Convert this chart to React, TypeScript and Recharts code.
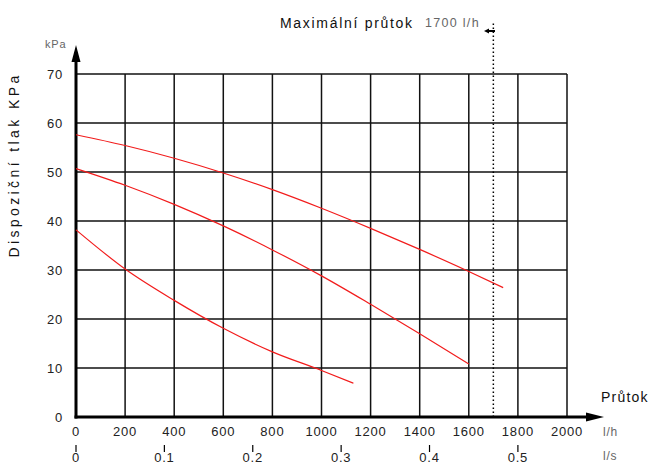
import React from "react";
import {
  LineChart,
  Line,
  XAxis,
  YAxis,
  CartesianGrid,
  ReferenceLine,
  Customized,
} from "recharts";

// Flow (l/h) and available pressure (kPa)
const flowHigh = [0, 200, 400, 600, 800, 1000, 1200, 1400, 1600, 1740];
const pressureHigh = [57.6, 55.4, 52.8, 49.8, 46.4, 42.6, 38.5, 34.2, 29.7, 26.4];

const flowMid = [0, 200, 400, 600, 800, 1000, 1200, 1400, 1600];
const pressureMid = [50.7, 47.3, 43.4, 39.0, 34.1, 28.8, 23.0, 17.0, 10.8];

const flowLow = [0, 200, 400, 600, 800, 1000, 1130];
const pressureLow = [38.2, 30.2, 23.8, 18.1, 13.3, 9.5, 6.9];

const flowTicks = [0, 200, 400, 600, 800, 1000, 1200, 1400, 1600, 1800, 2000];
const litresPerSecondTicks = [0, 0.1, 0.2, 0.3, 0.4, 0.5];
const pressureTicks = [0, 10, 20, 30, 40, 50, 60, 70];

const maxFlow = 1700;

const toRows = (q: number[], p: number[]) => q.map((v, i) => ({ q: v, p: p[i] }));

const curves = [
  { id: "high", data: toRows(flowHigh, pressureHigh) },
  { id: "mid", data: toRows(flowMid, pressureMid) },
  { id: "low", data: toRows(flowLow, pressureLow) },
];

// l/s ticks placed on the l/h scale
const lsTickPositions = litresPerSecondTicks.map((v) => v * 3600);

const RED = "#f21c1c";
const GRAY = "#666";
const INK = "#111";

// Axis arrows and free-standing labels
const Decorations = () => (
  <g>
    <line x1={76} y1={418.5} x2={76} y2={58} stroke="#000" strokeWidth={3} />
    <polygon points="76,45 71.5,62 80.5,62" fill="#000" />
    <line x1={74.5} y1={417} x2={590} y2={417} stroke="#000" strokeWidth={3} />
    <polygon points="604,417 586,412.5 586,421.5" fill="#000" />

    <text x={45} y={48} fontSize={11} fill={GRAY} letterSpacing={0.8}>
      kPa
    </text>
    <text
      x={19}
      y={165}
      fontSize={14}
      fill={INK}
      textAnchor="middle"
      letterSpacing={3.4}
      transform="rotate(-90 19 165)"
    >
      Dispoziční tlak KPa
    </text>

    <text x={280} y={28} fontSize={14} fill={INK} letterSpacing={1.7}>
      Maximální průtok
    </text>
    <text x={425} y={27} fontSize={12.5} fill={GRAY} letterSpacing={1.3}>
      1700 l/h
    </text>
    <polygon points="484,31 489,28.5 489,33.5" fill="#000" />
    <line x1={488} y1={31} x2={495} y2={31} stroke="#000" strokeWidth={2} />

    <text x={601} y={402} fontSize={14} fill={INK} letterSpacing={1.2}>
      Průtok
    </text>
    <text x={603} y={436} fontSize={12} fill={GRAY} letterSpacing={0.8}>
      l/h
    </text>
    <text x={603} y={460} fontSize={12} fill={GRAY} letterSpacing={0.8}>
      l/s
    </text>
  </g>
);

const tickStyle = { fill: "#222", fontSize: 13, letterSpacing: 0.8 };

// Second scale in l/s: short tick mark plus label
const LitresPerSecondTick = (props: any) => {
  const { x, y, payload } = props;
  const v = payload.value / 3600;
  const label = v === 0 ? "0" : v.toFixed(1);
  return (
    <g>
      <line x1={x} y1={y + 1} x2={x} y2={y + 8} stroke="#000" strokeWidth={1.2} />
      <text
        x={x}
        y={y + 18}
        textAnchor="middle"
        fill="#222"
        fontSize={13}
        letterSpacing={0.8}
      >
        {label}
      </text>
    </g>
  );
};

export default function App() {
  return (
    <div
      style={{
        position: "absolute",
        left: 0,
        top: 0,
        width: 650,
        height: 466,
        background: "#fff",
        fontFamily: "'Liberation Sans', Arial, sans-serif",
      }}
    >
      <LineChart
        width={650}
        height={466}
        data={curves[0].data}
        margin={{ top: 74, right: 83, bottom: 0, left: 0 }}
      >
        <CartesianGrid stroke={INK} strokeWidth={1.5} />
        <XAxis
          dataKey="q"
          type="number"
          domain={[0, 2000]}
          ticks={flowTicks}
          allowDuplicatedCategory={false}
          height={27}
          axisLine={false}
          tickLine={false}
          tickSize={0}
          tickMargin={10}
          tick={tickStyle}
          interval={0}
        />
        <XAxis
          xAxisId="ls"
          dataKey="q"
          type="number"
          domain={[0, 2000]}
          ticks={lsTickPositions}
          allowDuplicatedCategory={false}
          height={22}
          axisLine={false}
          tickLine={false}
          tickSize={0}
          tickMargin={0}
          tick={<LitresPerSecondTick />}
          interval={0}
        />
        <YAxis
          type="number"
          domain={[0, 70]}
          ticks={pressureTicks}
          width={76}
          axisLine={false}
          tickLine={false}
          tickSize={0}
          tickMargin={13}
          tick={tickStyle}
          interval={0}
        />
        {curves.map((c) => (
          <Line
            key={c.id}
            data={c.data}
            dataKey="p"
            type="monotone"
            stroke={RED}
            strokeWidth={1.2}
            dot={false}
            activeDot={false}
            isAnimationActive={false}
          />
        ))}
        <ReferenceLine
          segment={[
            { x: maxFlow, y: 0 },
            { x: maxFlow, y: 80.5 },
          ]}
          ifOverflow="visible"
          stroke="#000"
          strokeWidth={1.5}
          strokeDasharray="1.5 2.5"
        />
        <Customized component={<Decorations />} />
      </LineChart>
    </div>
  );
}
